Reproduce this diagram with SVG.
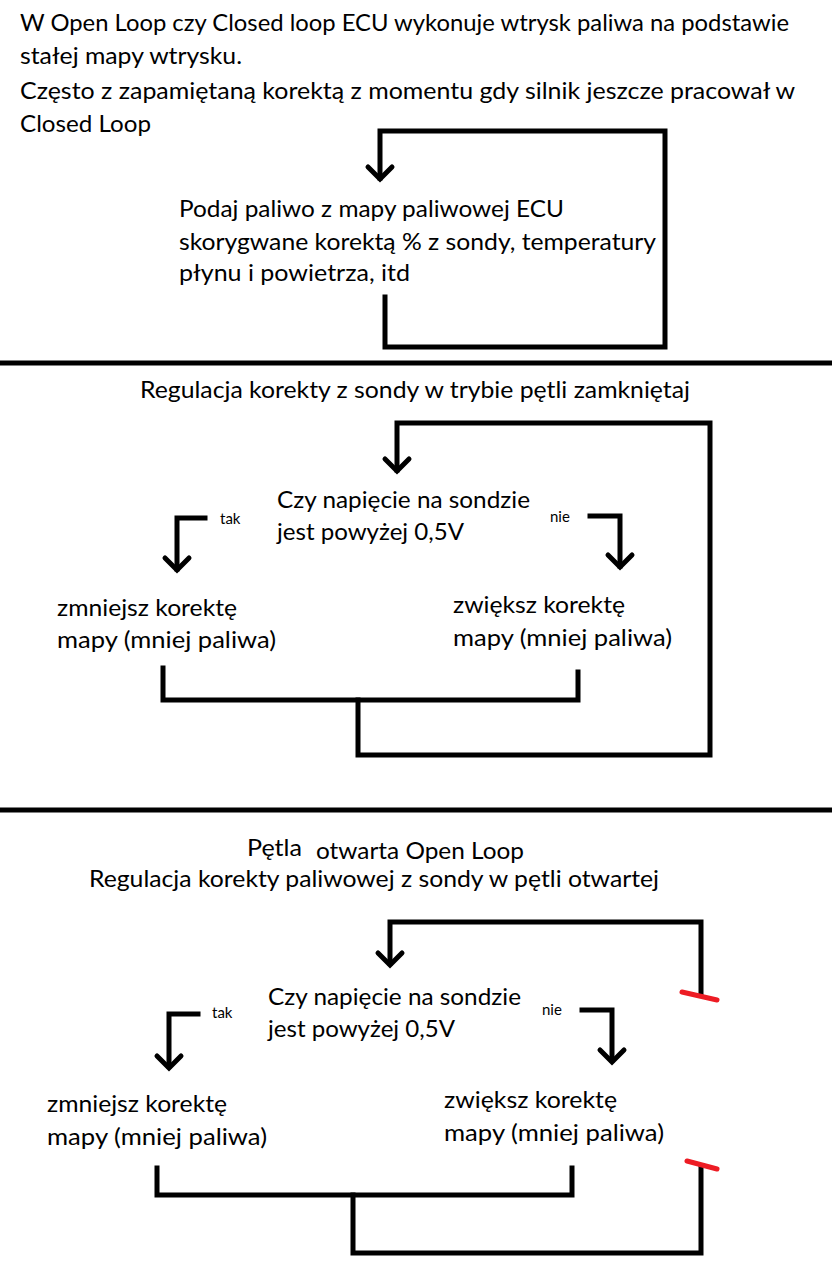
<svg xmlns="http://www.w3.org/2000/svg" width="832" height="1278" viewBox="0 0 832 1278">
<style>
  .t { font-family: Lato, "Open Sans", "Liberation Sans", sans-serif; font-size: 23px; fill: #000; }
  .s { font-family: Lato, "Open Sans", "Liberation Sans", sans-serif; font-size: 15px; fill: #000; }
  .ln { fill: none; stroke: #000; stroke-width: 5; stroke-linecap: square; stroke-linejoin: miter; }
  .ah { fill: none; stroke: #000; stroke-width: 5; stroke-linecap: round; stroke-linejoin: miter; }
  .red { fill: none; stroke: #ed1c24; stroke-width: 5; stroke-linecap: round; }
</style>
<rect width="832" height="1278" fill="#fff"/>

<g id="header">
  <text class="t" x="20" y="31" textLength="769" lengthAdjust="spacingAndGlyphs">W Open Loop czy Closed loop ECU wykonuje wtrysk paliwa na podstawie</text>
  <text class="t" x="20" y="64" textLength="222" lengthAdjust="spacingAndGlyphs">stałej mapy wtrysku.</text>
  <text class="t" x="20" y="99" textLength="775" lengthAdjust="spacingAndGlyphs">Często z zapamiętaną korektą z momentu gdy silnik jeszcze pracował w</text>
  <text class="t" x="20" y="132" textLength="131" lengthAdjust="spacingAndGlyphs">Closed Loop</text>
</g>

<g id="node-fuel-map">
  <text class="t" x="179" y="217" textLength="385" lengthAdjust="spacingAndGlyphs">Podaj paliwo z mapy paliwowej ECU</text>
  <text class="t" x="179" y="250" textLength="477" lengthAdjust="spacingAndGlyphs">skorygwane korektą % z sondy, temperatury</text>
  <text class="t" x="179" y="281" textLength="231" lengthAdjust="spacingAndGlyphs">płynu i  powietrza, itd</text>
</g>

<g id="section2-title">
  <text class="t" x="140" y="398" textLength="550" lengthAdjust="spacingAndGlyphs">Regulacja korekty z sondy w trybie pętli zamkniętaj</text>
</g>
<g id="node-decision-1">
  <text class="t" x="277" y="508" textLength="253" lengthAdjust="spacingAndGlyphs">Czy napięcie na sondzie</text>
  <text class="t" x="277" y="540" textLength="187" lengthAdjust="spacingAndGlyphs">jest powyżej 0,5V</text>
</g>
<g id="node-decrease-1">
  <text class="t" x="57" y="616" textLength="180" lengthAdjust="spacingAndGlyphs">zmniejsz korektę</text>
  <text class="t" x="57" y="648" textLength="219" lengthAdjust="spacingAndGlyphs">mapy (mniej paliwa)</text>
</g>
<g id="node-increase-1">
  <text class="t" x="453" y="613" textLength="172" lengthAdjust="spacingAndGlyphs">zwiększ  korektę</text>
  <text class="t" x="453" y="646" textLength="219" lengthAdjust="spacingAndGlyphs">mapy (mniej paliwa)</text>
</g>

<g id="section3-title">
  <text class="t" x="247" y="856" textLength="55" lengthAdjust="spacingAndGlyphs">Pętla</text>
  <text class="t" x="316" y="859" textLength="208" lengthAdjust="spacingAndGlyphs">otwarta Open Loop</text>
  <text class="t" x="89" y="887" textLength="570" lengthAdjust="spacingAndGlyphs">Regulacja korekty paliwowej z sondy w pętli otwartej</text>
</g>
<g id="node-decision-2">
  <text class="t" x="268" y="1005" textLength="253" lengthAdjust="spacingAndGlyphs">Czy napięcie na sondzie</text>
  <text class="t" x="268" y="1037" textLength="187" lengthAdjust="spacingAndGlyphs">jest powyżej 0,5V</text>
</g>
<g id="node-decrease-2">
  <text class="t" x="47" y="1112" textLength="180" lengthAdjust="spacingAndGlyphs">zmniejsz korektę</text>
  <text class="t" x="47" y="1145" textLength="220" lengthAdjust="spacingAndGlyphs">mapy (mniej paliwa)</text>
</g>
<g id="node-increase-2">
  <text class="t" x="444" y="1108" textLength="173" lengthAdjust="spacingAndGlyphs">zwiększ  korektę</text>
  <text class="t" x="444" y="1141" textLength="220" lengthAdjust="spacingAndGlyphs">mapy (mniej paliwa)</text>
</g>

<g id="separators">
  <line class="ln" x1="0" y1="363" x2="832" y2="363" stroke-linecap="butt"/>
  <line class="ln" x1="0" y1="810" x2="832" y2="810" stroke-linecap="butt"/>
</g>

<g id="connectors">
  <!-- section 1 loop -->
  <polyline class="ln" points="385,297 385,347 665,347 665,131 380,131 380,178"/>
  <polyline class="ah" points="368,167 380,179 392,167"/>

  <!-- section 2 -->
  <polyline class="ln" points="358,700 358,755 710,755 710,423 397,423 397,470"/>
  <polyline class="ah" points="385,459 397,471 409,459"/>
  <polyline class="ln" points="205,518 177,518 177,569"/>
  <polyline class="ah" points="165,558 177,570 189,558"/>
  <polyline class="ln" points="590,516 620,516 620,566"/>
  <polyline class="ah" points="608,555 620,567 632,555"/>
  <polyline class="ln" points="163,668 163,700 578,700 578,672"/>

  <!-- section 3 -->
  <polyline class="ln" points="701,994 701,922 390,922 390,963"/>
  <polyline class="ah" points="378,953 390,965 402,953"/>
  <polyline class="ln" points="701,1166 701,1253 353,1253 353,1195"/>
  <polyline class="ln" points="198,1014 169,1014 169,1066"/>
  <polyline class="ah" points="157,1056 169,1068 181,1056"/>
  <polyline class="ln" points="582,1010 612,1010 612,1060"/>
  <polyline class="ah" points="600,1050 612,1062 624,1050"/>
  <polyline class="ln" points="157,1168 157,1195 572,1195 572,1168"/>
  <line class="red" x1="682" y1="992" x2="717" y2="1000"/>
  <line class="red" x1="687" y1="1161" x2="717" y2="1169"/>
</g>

<g id="labels">
  <text class="s" x="220" y="524">tak</text>
  <text class="s" x="550" y="522">nie</text>
  <text class="s" x="212" y="1018">tak</text>
  <text class="s" x="542" y="1015">nie</text>
</g>
</svg>
